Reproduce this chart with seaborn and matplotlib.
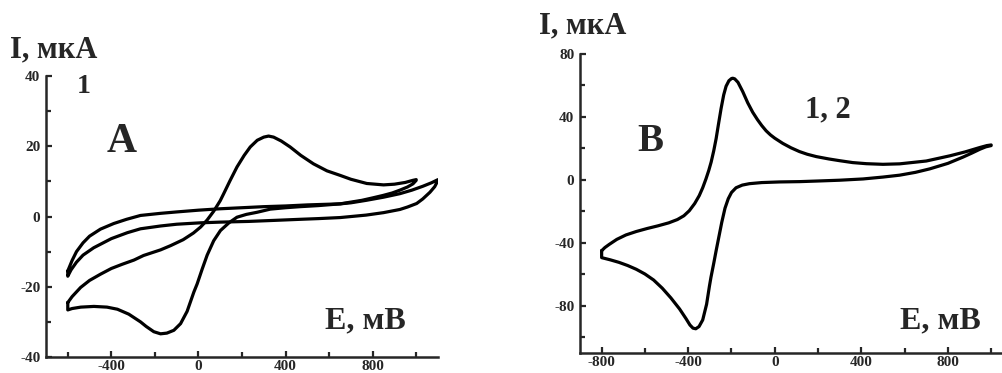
import numpy as np
import pandas as pd
import matplotlib
matplotlib.use("Agg")
import matplotlib.pyplot as plt
import seaborn as sns
from matplotlib.ticker import MultipleLocator

# Panel A, curve 1 (with peaks): forward sweep -600 -> 1000 mV, then back
a1_fwd_E = [-600, -580, -541, -500, -449, -400, -350, -296, -252, -174, -128, -70, -23, 10, 40, 70,
            100, 116, 145, 177, 210, 238, 270, 300, 322, 345, 380, 421, 470, 528, 590, 651, 700,
            773, 850, 900, 950, 985, 1000]
a1_fwd_I = [-24.5, -22.8, -20.2, -18.2, -16.4, -14.8, -13.6, -12.4, -11.1, -9.5, -8.3, -6.6, -4.7,
            -3.0, -1.0, 1.5, 4.5, 6.5, 10.2, 14.1, 17.4, 19.8, 21.7, 22.6, 22.9, 22.6, 21.5, 19.8,
            17.4, 15.0, 13.0, 11.7, 10.6, 9.4, 9.0, 9.2, 9.7, 10.3, 10.5]
a1_rev_E = [1000, 985, 960, 925, 890, 848, 800, 750, 700, 651, 550, 467, 400, 330, 269, 220, 177,
            140, 101, 70, 40, 17, -6, -21, -52, -82, -113, -145, -174, -205, -240, -266, -320,
            -372, -420, -480, -540, -580, -600, -600]
a1_rev_I = [10.3, 9.3, 8.4, 7.5, 6.7, 6.0, 5.3, 4.6, 4.1, 3.6, 3.1, 2.8, 2.5, 2.1, 1.2, 0.6, -0.2,
            -1.8, -4.0, -6.9, -11.0, -15.0, -19.2, -21.5, -27.0, -30.5, -32.4, -33.2, -33.4, -32.8,
            -31.3, -30.0, -27.8, -26.4, -25.8, -25.6, -25.8, -26.2, -26.6, -24.5]

# Panel A, background loop: -600 -> 1100 mV and back
a2_fwd_E = [-600, -580, -560, -530, -500, -450, -389, -330, -266, -174, -100, 0, 100, 200, 300,
            400, 500, 600, 651, 700, 770, 850, 925, 980, 1030, 1070, 1100]
a2_fwd_I = [-15.5, -12.5, -10.0, -7.5, -5.6, -3.6, -2.0, -0.8, 0.3, 0.9, 1.3, 1.8, 2.2, 2.5, 2.8,
            3.0, 3.3, 3.5, 3.6, 3.9, 4.6, 5.5, 6.5, 7.5, 8.6, 9.6, 10.5]
a2_rev_E = [1100, 1085, 1063, 1030, 1002, 960, 925, 850, 770, 651, 550, 467, 350, 230, 100, 9,
            -100, -174, -266, -326, -400, -481, -530, -560, -585, -600, -600]
a2_rev_I = [10.3, 8.5, 6.9, 5.0, 3.7, 2.7, 2.0, 1.1, 0.4, -0.3, -0.6, -0.8, -1.1, -1.4, -1.6,
            -1.8, -2.2, -2.7, -3.5, -4.6, -6.3, -8.9, -11.0, -13.0, -15.2, -17.0, -15.5]

# Panel B, curves 1 and 2 coincide: -800 -> 1000 mV and back
b_fwd_E = [-800, -785, -765, -730, -688, -640, -590, -540, -490, -450, -420, -395, -370, -349,
           -333, -318, -305, -294, -282, -271, -260, -248, -236, -225, -212, -200, -194, -185,
           -170, -148, -125, -102, -80, -60, -40, -20, 0, 37, 75, 114, 150, 192, 250, 300, 360,
           423, 500, 577, 700, 809, 880, 948, 980, 1000]
b_fwd_I = [-45.0, -43.0, -41.0, -37.8, -35.0, -32.8, -30.9, -29.2, -27.3, -25.2, -22.8, -19.6,
           -15.0, -10.0, -5.0, 0.6, 6.0, 11.3, 18.5, 26.2, 35.5, 45.4, 54.0, 59.5, 63.0, 64.4,
           64.6, 64.2, 62.0, 56.1, 49.0, 43.0, 38.3, 34.5, 31.2, 28.6, 26.5, 23.2, 20.4, 18.0,
           16.3, 14.8, 13.3, 12.2, 11.0, 10.3, 9.9, 10.2, 12.0, 15.3, 17.8, 20.6, 21.8, 22.2]
b_rev_E = [1000, 975, 948, 910, 870, 800, 716, 650, 577, 500, 408, 300, 200, 115, 22, -60, -117,
           -150, -179, -200, -215, -230, -245, -258, -271, -282, -295, -302, -315, -333, -350,
           -365, -378, -392, -410, -440, -480, -520, -560, -600, -640, -680, -720, -760, -800, -800]
b_rev_I = [21.8, 21.0, 19.5, 17.0, 14.5, 10.5, 7.0, 4.8, 3.0, 1.8, 0.6, -0.2, -0.7, -1.1, -1.3,
           -1.7, -2.4, -3.3, -5.0, -8.0, -12.0, -18.0, -27.0, -36.0, -45.0, -53.0, -62.0, -67.6,
           -79.0, -89.0, -93.2, -94.6, -94.2, -92.2, -88.2, -82.0, -75.0, -68.8, -63.6, -59.8,
           -56.8, -54.4, -52.4, -50.8, -49.4, -45.0]

a_xticks = [-400, 0, 400, 800]
a_yticks = [-40, -20, 0, 20, 40]
b_xticks = [-800, -400, 0, 400, 800]
b_yticks = [-80, -40, 0, 40, 80]


def loop_df(fwd_E, fwd_I, rev_E, rev_I, name):
    E = list(fwd_E) + list(rev_E)
    I = list(fwd_I) + list(rev_I)
    return pd.DataFrame({"E": E, "I": I, "curve": name, "step": range(len(E))})


sns.set_style("ticks")
plt.rcParams["font.family"] = ["Liberation Serif", "DejaVu Serif"]
plt.rcParams["font.weight"] = "bold"
plt.rcParams["axes.unicode_minus"] = False

W, H = 1003, 373
fig = plt.figure(figsize=(W / 100, H / 100), dpi=100)

ax_a = fig.add_axes([46 / W, 1 - 357 / H, 392 / W, (357 - 76) / H])
ax_b = fig.add_axes([580 / W, 1 - 353 / H, 422 / W, (353 - 54) / H])

df_a = pd.concat([loop_df(a1_fwd_E, a1_fwd_I, a1_rev_E, a1_rev_I, "1"),
                  loop_df(a2_fwd_E, a2_fwd_I, a2_rev_E, a2_rev_I, "2")])
df_b = loop_df(b_fwd_E, b_fwd_I, b_rev_E, b_rev_I, "1")

for ax, df in [(ax_a, df_a), (ax_b, df_b)]:
    for name, g in df.groupby("curve"):
        sns.lineplot(data=g, x="E", y="I", sort=False, estimator=None, color="black",
                     linewidth=2.3, ax=ax, legend=False)

ax_a.set_xlim(-700, 1100)
ax_a.set_ylim(-40, 40)
ax_a.set_xticks(a_xticks)
ax_a.set_yticks(a_yticks)
ax_a.xaxis.set_minor_locator(MultipleLocator(200))
ax_a.yaxis.set_minor_locator(MultipleLocator(10))

ax_b.set_xlim(-900, 1050)
ax_b.set_ylim(-110, 80)
ax_b.set_xticks(b_xticks)
ax_b.set_yticks(b_yticks)
ax_b.xaxis.set_minor_locator(MultipleLocator(200))
ax_b.yaxis.set_minor_locator(MultipleLocator(20))

for ax in (ax_a, ax_b):
    sns.despine(ax=ax)
    ax.set_xlabel("")
    ax.set_ylabel("")
    for s in ("left", "bottom"):
        ax.spines[s].set_linewidth(1.8)
    ax.tick_params(which="major", direction="in", length=4.5, width=1.6, labelsize=11, pad=4)
    ax.tick_params(axis="x", which="major", pad=2)
    ax.tick_params(which="minor", direction="in", length=3.5, width=1.6)
    for lab in ax.get_xticklabels() + ax.get_yticklabels():
        lab.set_fontweight("bold")


def ftext(x, y, s, size):
    fig.text(x / W, 1 - y / H, s, fontsize=size, fontweight="bold", ha="left", va="baseline")


ftext(10, 57, "I, мкА", 22)
ftext(77, 93, "1", 20)
ftext(107, 152, "A", 30)
ftext(325, 328, "E, мВ", 23)

ftext(539, 33, "I, мкА", 22)
ftext(637, 151, "B", 28)
ftext(805, 117, "1, 2", 22)
ftext(900, 328, "E, мВ", 23)

fig.savefig("out.png", dpi=100)
